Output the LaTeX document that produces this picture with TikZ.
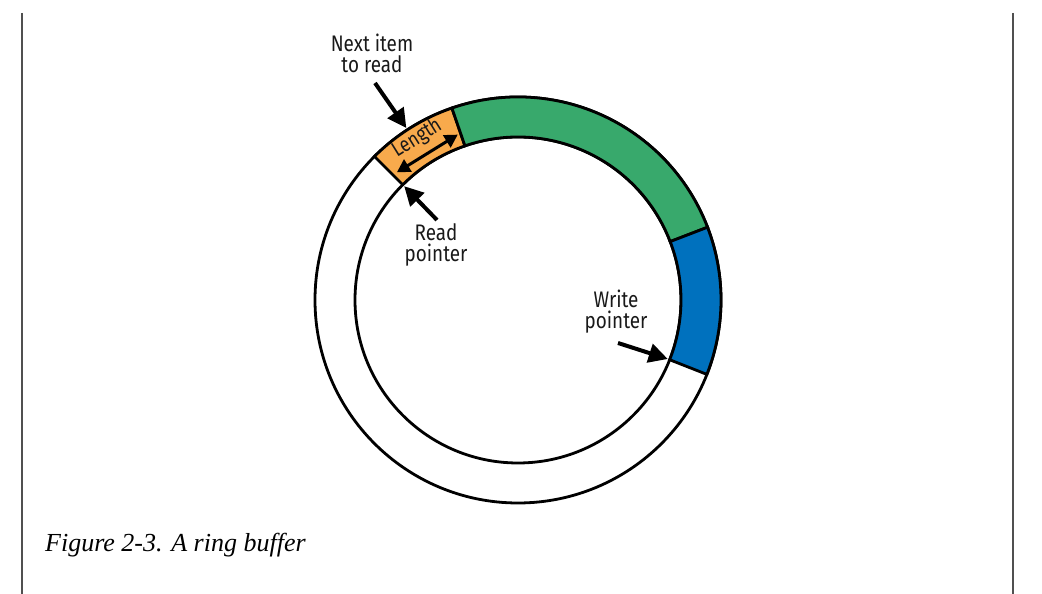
\documentclass[tikz,border=0pt]{standalone}
\usepackage{fontspec}
\setmainfont{Liberation Serif}
\newfontfamily\labfont[FakeStretch=0.84]{Fira Sans}
\usetikzlibrary{arrows.meta}
\definecolor{segorange}{RGB}{248,170,76}
\definecolor{seggreen}{RGB}{56,169,108}
\definecolor{segblue}{RGB}{0,113,190}
\definecolor{frameg}{RGB}{80,80,80}
\definecolor{labtext}{RGB}{25,25,25}
\newcommand\ringseg[3]{\filldraw[fill=#1,ring] (#2:203) arc[start angle=#2,end angle=#3,radius=203] -- (#3:163) arc[start angle=#3,end angle=#2,radius=163] -- cycle;}
\begin{document}
\begin{tikzpicture}[x=1pt,y=1pt,
  ring/.style={line width=2.8pt,draw=black},
  ptr/.style={line width=4pt,-{Triangle[length=19pt,width=19pt]}},
  lenarrow/.style={line width=3pt,{Triangle[length=13pt,width=14pt]}-{Triangle[length=13pt,width=14pt]}},
  lab/.style={font=\labfont\fontsize{22.5}{21}\selectfont, align=center, inner sep=0pt, text=labtext},
  lenlab/.style={font=\labfont\fontsize{21}{20}\selectfont, inner sep=0pt, text=labtext},
  framel/.style={draw=frameg,line width=1.5pt}]
\useasboundingbox (0,0) rectangle (1042,594);
\draw[framel] (22,581) -- (22,0);
\draw[framel] (1013,581) -- (1013,0);
\begin{scope}[shift={(518,294)}]
  \coordinate (C) at (0,0);
  \draw[ring] (C) circle[radius=203];
  \draw[ring] (C) circle[radius=163];
  \ringseg{segorange}{109}{135}
  \ringseg{seggreen}{21}{109}
  \ringseg{segblue}{-21.5}{21}
  \coordinate (nexttip) at (123:205);
  \coordinate (readtip) at (135:161);
  \coordinate (writetip) at (-21.5:161);
  \coordinate (lenA) at (133.5:176);
  \coordinate (lenB) at (110:176);
  \node[lenlab, rotate=32] (lenlbl) at (122:190.5) {Length};
\end{scope}
\draw[lenarrow] (lenA) -- (lenB);
\node[lab] (nextlbl) at (372,541) {Next item\\to read};
\node[lab] (readlbl) at (436,349) {Read\\pointer};
\node[lab] (writelbl) at (616,282) {Write\\pointer};
\coordinate (nexttail) at (375,511);
\coordinate (readtail) at (437,374);
\coordinate (writetail) at (618,251);
\draw[ptr] (nexttail) -- (nexttip);
\draw[ptr] (readtail) -- (readtip);
\draw[ptr] (writetail) -- (writetip);
\node[anchor=base west, inner sep=0pt, font=\itshape\fontsize{26}{30}\selectfont] (cap) at (45,42) {Figure 2-3. A ring buffer};
\end{tikzpicture}
\end{document}
